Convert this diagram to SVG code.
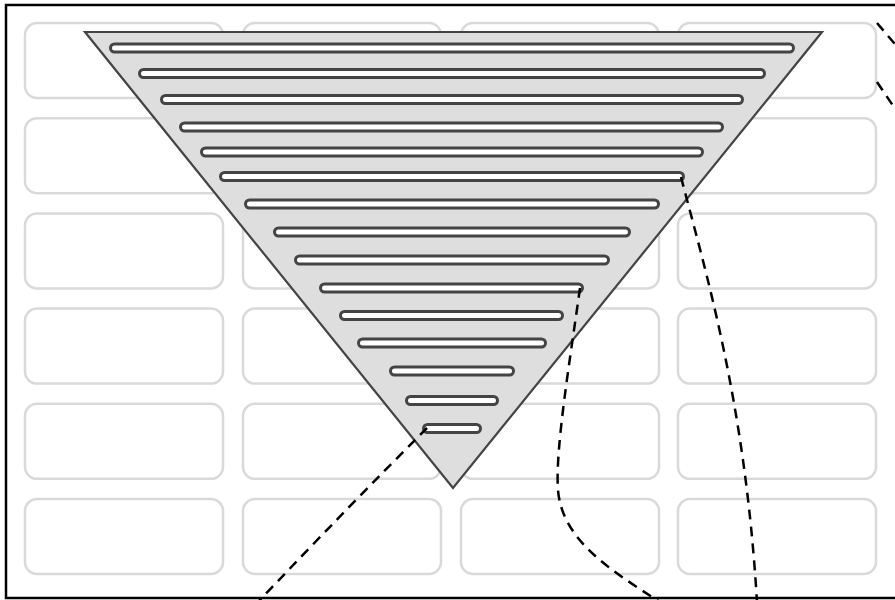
<svg xmlns="http://www.w3.org/2000/svg" width="895" height="600" viewBox="0 0 895 600">
<style>
.cell{fill:#fff;stroke:#d9d9d9;stroke-width:2.5}
.tri{fill:#dedede;stroke:#444;stroke-width:2.2;stroke-linejoin:miter}
.bar{fill:#fff;stroke:#444;stroke-width:3}
.conn{fill:none;stroke:#000;stroke-width:2.5;stroke-dasharray:10 7}
.frame{fill:none;stroke:#000;stroke-width:2.5}
</style>
<rect width="895" height="600" fill="#fff"/>
<g id="grid">
<rect class="cell" x="25" y="23" width="198" height="75" rx="12"/>
<rect class="cell" x="243" y="23" width="198" height="75" rx="12"/>
<rect class="cell" x="461" y="23" width="198" height="75" rx="12"/>
<rect class="cell" x="678" y="23" width="198" height="75" rx="12"/>
<rect class="cell" x="25" y="118.2" width="198" height="75" rx="12"/>
<rect class="cell" x="243" y="118.2" width="198" height="75" rx="12"/>
<rect class="cell" x="461" y="118.2" width="198" height="75" rx="12"/>
<rect class="cell" x="678" y="118.2" width="198" height="75" rx="12"/>
<rect class="cell" x="25" y="213.4" width="198" height="75" rx="12"/>
<rect class="cell" x="243" y="213.4" width="198" height="75" rx="12"/>
<rect class="cell" x="461" y="213.4" width="198" height="75" rx="12"/>
<rect class="cell" x="678" y="213.4" width="198" height="75" rx="12"/>
<rect class="cell" x="25" y="308.6" width="198" height="75" rx="12"/>
<rect class="cell" x="243" y="308.6" width="198" height="75" rx="12"/>
<rect class="cell" x="461" y="308.6" width="198" height="75" rx="12"/>
<rect class="cell" x="678" y="308.6" width="198" height="75" rx="12"/>
<rect class="cell" x="25" y="403.8" width="198" height="75" rx="12"/>
<rect class="cell" x="243" y="403.8" width="198" height="75" rx="12"/>
<rect class="cell" x="461" y="403.8" width="198" height="75" rx="12"/>
<rect class="cell" x="678" y="403.8" width="198" height="75" rx="12"/>
<rect class="cell" x="25" y="499" width="198" height="75" rx="12"/>
<rect class="cell" x="243" y="499" width="198" height="75" rx="12"/>
<rect class="cell" x="461" y="499" width="198" height="75" rx="12"/>
<rect class="cell" x="678" y="499" width="198" height="75" rx="12"/>
</g>
<g id="triangle">
<polygon class="tri" points="85,32 822,32 453,488"/>
</g>
<g id="bars">
<rect id="bar1" class="bar" x="110.5" y="44" width="683" height="8" rx="4"/>
<rect id="bar2" class="bar" x="139.5" y="69.5" width="625" height="8" rx="4"/>
<rect id="bar3" class="bar" x="161.5" y="95.5" width="581" height="8" rx="4"/>
<rect id="bar4" class="bar" x="180.5" y="123" width="542" height="8" rx="4"/>
<rect id="bar5" class="bar" x="201.5" y="148" width="501" height="8" rx="4"/>
<rect id="bar6" class="bar" x="220.5" y="172.5" width="463" height="8" rx="4"/>
<rect id="bar7" class="bar" x="245.5" y="200" width="413" height="8" rx="4"/>
<rect id="bar8" class="bar" x="274.5" y="228" width="355" height="8" rx="4"/>
<rect id="bar9" class="bar" x="295.5" y="256" width="313" height="8" rx="4"/>
<rect id="bar10" class="bar" x="320.5" y="284" width="262" height="8" rx="4"/>
<rect id="bar11" class="bar" x="340.5" y="311.5" width="222" height="8" rx="4"/>
<rect id="bar12" class="bar" x="358.5" y="339" width="187" height="8" rx="4"/>
<rect id="bar13" class="bar" x="390.5" y="367" width="123" height="8" rx="4"/>
<rect id="bar14" class="bar" x="406.5" y="396.5" width="91" height="8" rx="4"/>
<rect id="bar15" class="bar" x="423.5" y="424.5" width="57" height="8" rx="4"/>
</g>
<g id="connectors">
<path class="conn" d="M427,428 Q350,505 258,602"/>
<path class="conn" d="M580,288 C570,360 555,450 558,490 C562,540 610,570 660,602"/>
<path class="conn" d="M681,177 C705,270 745,400 757,602"/>
<path class="conn" d="M877,23 L900,50 M877,82 L900,116"/>
</g>
<rect class="frame" x="6" y="5" width="900" height="593"/>
</svg>
